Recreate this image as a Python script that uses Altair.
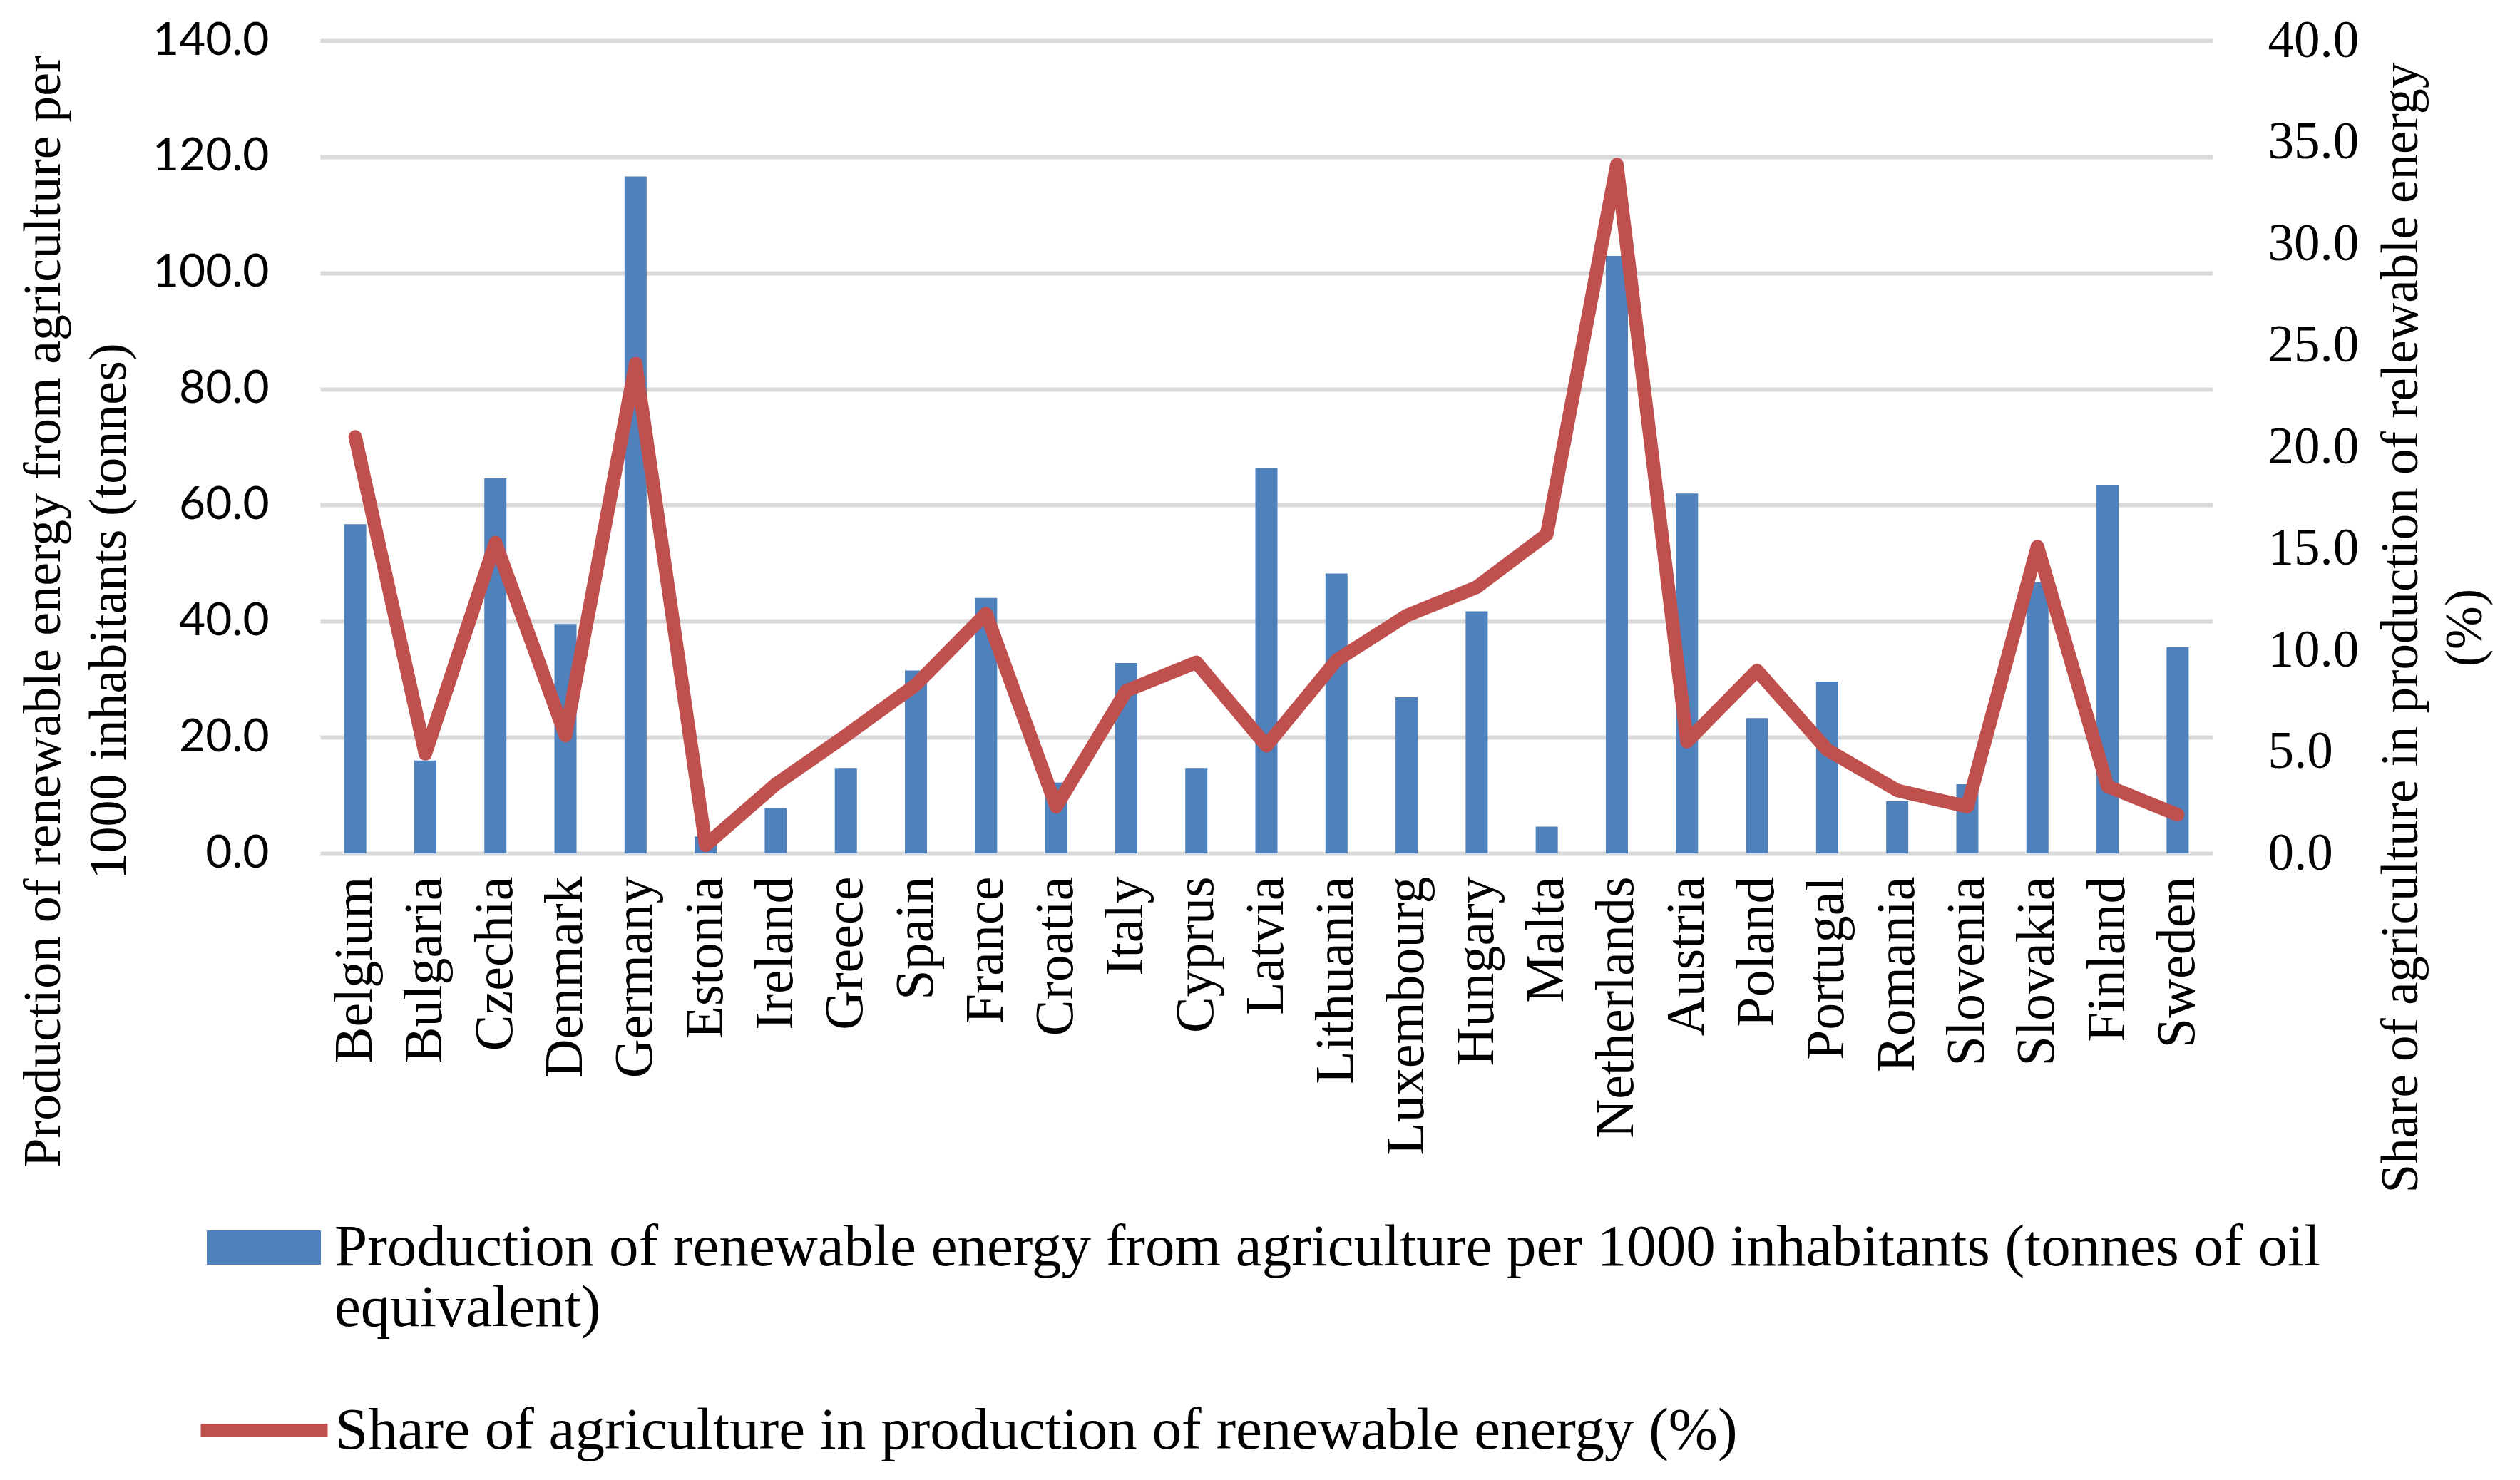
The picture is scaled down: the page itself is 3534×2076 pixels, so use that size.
import altair as alt
import pandas as pd

countries = ["Belgium", "Bulgaria", "Czechia", "Denmark", "Germany", "Estonia", "Ireland",
             "Greece", "Spain", "France", "Croatia", "Italy", "Cyprus", "Latvia", "Lithuania",
             "Luxembourg", "Hungary", "Malta", "Netherlands", "Austria", "Poland", "Portugal",
             "Romania", "Slovenia", "Slovakia", "Finland", "Sweden"]
production = [56.7, 16.0, 64.6, 39.5, 116.6, 2.9, 7.8, 14.7, 31.5, 44.0, 12.2, 32.8, 14.7, 66.4,
              48.2, 26.9, 41.7, 4.6, 102.9, 62.0, 23.3, 29.6, 9.0, 11.9, 46.7, 63.5, 35.5]
share = [20.5, 4.9, 15.3, 5.8, 24.1, 0.4, 3.4, 5.8, 8.3, 11.8, 2.3, 8.0, 9.4, 5.3, 9.5, 11.7,
         13.1, 15.7, 33.9, 5.5, 9.0, 5.1, 3.1, 2.3, 15.1, 3.3, 1.9]

left_ticks = [0, 20, 40, 60, 80, 100, 120, 140]
right_ticks = [0, 5, 10, 15, 20, 25, 30, 35, 40]

left_title = ["Production of renewable energy from agriculture per", "1000 inhabitants (tonnes)"]
right_title = ["Share of agriculture in production of relewable energy", "(%)"]

bar_name = "Production of renewable energy from agriculture per 1000 inhabitants  (tonnes of oil equivalent)"
bar_lines = ["Production of renewable energy from agriculture per 1000 inhabitants  (tonnes of oil",
             "equivalent)"]
line_name = "Share of agriculture in production of renewable energy (%)"

BLUE = "#4F81BD"
RED = "#C0504D"
GRID = "#D9D9D9"
SERIF = "Liberation Serif"
SANS = "Lato"

df = pd.DataFrame({
    "country": countries,
    "production": production,
    "share": share,
    "bar_series": [bar_name] * len(countries),
    "line_series": [line_name] * len(countries),
})

x_enc = alt.X(
    "country:N", sort=countries,
    scale=alt.Scale(paddingInner=0, paddingOuter=0),
    axis=alt.Axis(title=None, labelAngle=270, labelAlign="right", labelBaseline="middle",
                  labelFont=SERIF, labelFontSize=76, labelColor="black", labelPadding=32,
                  labelLimit=2000, ticks=False, tickSize=0, domain=False, grid=False,
                  labelOverlap=False),
)

bar_label_expr = "['" + bar_lines[0] + "', '" + bar_lines[1] + "']"

bars = alt.Chart(df).mark_bar(size=31).encode(
    x=x_enc,
    y=alt.Y("production:Q",
            scale=alt.Scale(domain=[0, 140], nice=False, zero=True),
            axis=alt.Axis(values=left_ticks, format=".1f", title=left_title,
                          labelFont=SANS, labelFontSize=64, labelColor="black", labelPadding=72,
                          ticks=False, tickSize=0, domain=False,
                          grid=True, gridColor=GRID, gridWidth=6,
                          titleFont=SERIF, titleFontSize=74, titleFontWeight="normal",
                          titleColor="black", titleAngle=270, titleAlign="center",
                          titleBaseline="middle", titleLineHeight=92,
                          titleX=-388, titleY=800)),
    fill=alt.Fill("bar_series:N",
                  scale=alt.Scale(domain=[bar_name], range=[BLUE]),
                  legend=alt.Legend(orient="none", legendX=-159, legendY=1613, title=None,
                                    labelFont=SERIF, labelFontSize=83, labelColor="black",
                                    labelLimit=4000, labelOffset=19,
                                    symbolType="M-1,-0.3H1V0.3H-1Z", symbolSize=25600,
                                    symbolStrokeWidth=0, symbolOpacity=1,
                                    labelExpr=bar_label_expr)),
)

line = alt.Chart(df).mark_line(strokeWidth=19, strokeJoin="round", strokeCap="round").encode(
    x=x_enc,
    y=alt.Y("share:Q",
            scale=alt.Scale(domain=[0, 40], nice=False, zero=True),
            axis=alt.Axis(orient="right", values=right_ticks, format=".1f", title=right_title,
                          labelFont=SERIF, labelFontSize=73, labelColor="black", labelPadding=77,
                          ticks=False, tickSize=0, domain=False, grid=False,
                          titleFont=SERIF, titleFontSize=73, titleFontWeight="normal",
                          titleColor="black", titleAngle=270, titleAlign="center",
                          titleBaseline="middle", titleLineHeight=90,
                          titleX=264, titleY=823)),
    stroke=alt.Stroke("line_series:N",
                      scale=alt.Scale(domain=[line_name], range=[RED]),
                      legend=alt.Legend(orient="none", legendX=-177, legendY=1851, title=None,
                                        labelFont=SERIF, labelFontSize=83, labelColor="black",
                                        labelLimit=4000, labelOffset=1,
                                        symbolType="stroke", symbolSize=31684,
                                        symbolStrokeWidth=19, symbolOpacity=1)),
)

chart = alt.layer(bars, line).resolve_scale(y="independent").properties(
    width=2654, height=1140,
    padding={"left": 441, "top": 49, "right": 423, "bottom": 871},
    autosize=alt.AutoSizeParams(type="none"),
    background="white",
).configure_view(stroke=None)

chart.save("out.html", embed_options={"renderer": "svg", "actions": False})
